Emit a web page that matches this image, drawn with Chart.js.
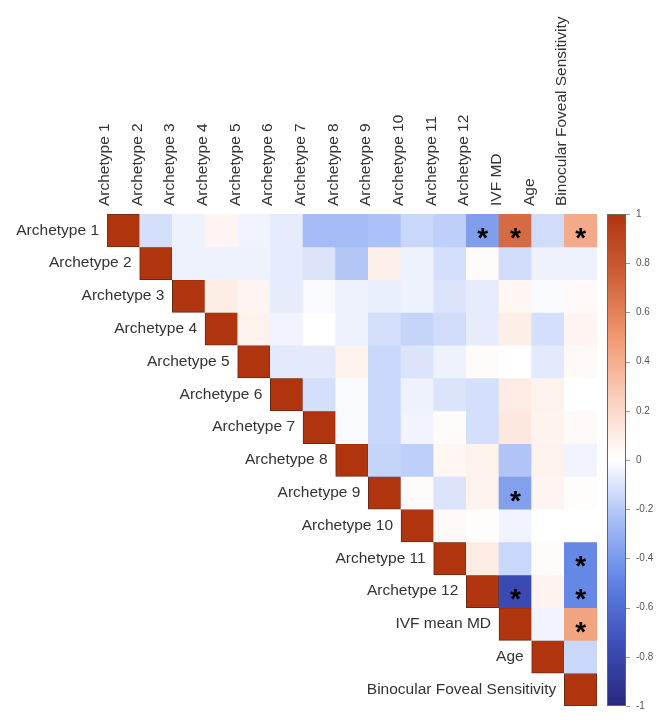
<!DOCTYPE html>
<html>
<head>
<meta charset="utf-8">
<script src="https://cdn.jsdelivr.net/npm/chart.js@4.4.1/dist/chart.umd.min.js"></script>
<style>
  body { margin: 0; background: #fff; }
  canvas { display: block; }
</style>
</head>
<body>
<canvas id="corrChart" width="666" height="722"></canvas>
<script>
// noms des colonnes (haut) et des lignes (le long de la diagonale)
const colLabels = ['Archetype 1', 'Archetype 2', 'Archetype 3', 'Archetype 4', 'Archetype 5', 'Archetype 6',
  'Archetype 7', 'Archetype 8', 'Archetype 9', 'Archetype 10', 'Archetype 11', 'Archetype 12',
  'IVF MD', 'Age', 'Binocular Foveal Sensitivity'];
const rowLabels = ['Archetype 1', 'Archetype 2', 'Archetype 3', 'Archetype 4', 'Archetype 5', 'Archetype 6',
  'Archetype 7', 'Archetype 8', 'Archetype 9', 'Archetype 10', 'Archetype 11', 'Archetype 12',
  'IVF mean MD', 'Age', 'Binocular Foveal Sensitivity'];

// triangle supérieur : chaque ligne commence juste après la diagonale
const rowA1 = [-0.12, -0.05, 0.05, -0.04, -0.07, -0.25, -0.25, -0.23, -0.15, -0.18, -0.38, 0.7, -0.13, 0.42];
const rowA2 = [-0.05, -0.05, -0.05, -0.07, -0.1, -0.21, 0.08, -0.05, -0.12, 0.02, -0.13, -0.05, -0.05];
const rowA3 = [0.1, 0.05, -0.07, -0.02, -0.05, -0.06, -0.05, -0.1, -0.07, 0.04, -0.02, 0.03];
const rowA4 = [0.07, -0.04, 0.0, -0.05, -0.12, -0.16, -0.13, -0.07, 0.09, -0.12, 0.05];
const rowA5 = [-0.08, -0.08, 0.07, -0.15, -0.1, -0.05, 0.02, 0.0, -0.08, 0.03];
const rowA6 = [-0.12, -0.02, -0.15, -0.05, -0.1, -0.12, 0.1, 0.07, 0.0];
const rowA7 = [-0.02, -0.15, -0.04, 0.02, -0.12, 0.12, 0.06, 0.03];
const rowA8 = [-0.16, -0.18, 0.04, 0.07, -0.22, 0.07, -0.04];
const rowA9 = [0.02, -0.1, 0.07, -0.37, 0.05, 0.01];
const rowA10 = [0.03, 0.01, -0.04, 0.0, 0.0];
const rowA11 = [0.1, -0.15, 0.02, -0.48];
const rowA12 = [-0.78, 0.06, -0.48];
const rowIVF = [-0.04, 0.45];
const rowAge = [-0.15];
const rowBFS = [];
const upperRows = [rowA1, rowA2, rowA3, rowA4, rowA5, rowA6, rowA7, rowA8, rowA9, rowA10, rowA11, rowA12, rowIVF, rowAge, rowBFS];

// cellules significatives [ligne, colonne], base 1
const significant = [[1, 12], [1, 13], [1, 15], [9, 13], [11, 15], [12, 13], [12, 15], [13, 15]];

// ticks de la barre de couleur
const cbTicks = [1, 0.8, 0.6, 0.4, 0.2, 0, -0.2, -0.4, -0.6, -0.8, -1];

// palette divergente bleu - blanc - rouge brique
const colorStops = [
  [-1, [40, 40, 125]],
  [-0.75, [62, 78, 185]],
  [-0.5, [95, 130, 228]],
  [-0.25, [165, 188, 246]],
  [0, [255, 255, 255]],
  [0.25, [250, 207, 188]],
  [0.5, [240, 152, 112]],
  [0.75, [206, 96, 56]],
  [1, [176, 52, 14]]
];

function colorFor(v) {
  for (let k = 1; k < colorStops.length; k++) {
    const [v0, c0] = colorStops[k - 1];
    const [v1, c1] = colorStops[k];
    if (v <= v1) {
      const t = (v - v0) / (v1 - v0);
      const c = c0.map((x, i) => Math.round(x + (c1[i] - x) * t));
      return `rgb(${c[0]},${c[1]},${c[2]})`;
    }
  }
  const c = colorStops[colorStops.length - 1][1];
  return `rgb(${c[0]},${c[1]},${c[2]})`;
}

function valueAt(r, c) {
  if (c === r) return 1;
  return upperRows[r][c - r - 1];
}

const FONT = "'Liberation Sans', Arial, sans-serif";
const LABEL_SIZE = 15.5;

// une série par ligne : barres flottantes qui occupent toute la case
const datasets = rowLabels.map((name, r) => ({
  label: name,
  data: colLabels.map((_, c) => c >= r ? [r + 0.5, r + 1.5] : null),
  backgroundColor: colLabels.map((_, c) => c >= r ? colorFor(valueAt(r, c)) : 'transparent'),
  borderColor: colLabels.map((_, c) => c === r ? '#6a2a12' : 'transparent'),
  borderWidth: colLabels.map((_, c) => c === r ? 1 : 0),
  borderSkipped: false,
  grouped: false,
  categoryPercentage: 1,
  barPercentage: 1
}));

// étiquettes de lignes, astérisques et barre de couleur
const overlayPlugin = {
  id: 'overlay',
  afterDatasetsDraw(chart) {
    const ctx = chart.ctx;
    const xs = chart.scales.x;
    const ys = chart.scales.y;
    const cw = xs.getPixelForValue(1) - xs.getPixelForValue(0);

    ctx.save();
    ctx.fillStyle = '#333';
    ctx.font = `${LABEL_SIZE}px ${FONT}`;
    ctx.textAlign = 'right';
    ctx.textBaseline = 'middle';
    rowLabels.forEach((name, r) => {
      const x = xs.getPixelForValue(r) - cw / 2 - 8;
      const y = ys.getPixelForValue(r + 1);
      ctx.fillText(name, x, y);
    });

    const size = 28;
    ctx.fillStyle = '#000';
    ctx.font = `bold ${size}px ${FONT}`;
    ctx.textAlign = 'center';
    ctx.textBaseline = 'alphabetic';
    significant.forEach(([r, c]) => {
      const x = xs.getPixelForValue(c - 1);
      const y = ys.getPixelForValue(r);
      ctx.fillText('*', x, y + size * 0.6);
    });
    ctx.restore();
  },
  afterDraw(chart) {
    const ctx = chart.ctx;
    const cb = chart.scales.cb;
    const left = chart.chartArea.right + 10;
    const w = 19;
    const top = cb.getPixelForValue(1);
    const bottom = cb.getPixelForValue(-1);
    const grad = ctx.createLinearGradient(0, top, 0, bottom);
    colorStops.forEach(([v, c]) => {
      grad.addColorStop((1 - v) / 2, `rgb(${c[0]},${c[1]},${c[2]})`);
    });
    ctx.save();
    ctx.fillStyle = grad;
    ctx.fillRect(left, top, w, bottom - top);
    ctx.strokeStyle = '#666';
    ctx.lineWidth = 1;
    ctx.strokeRect(left + 0.5, top + 0.5, w - 1, bottom - top - 1);
    ctx.strokeStyle = '#999';
    cbTicks.forEach(v => {
      const y = Math.round(cb.getPixelForValue(v)) + 0.5;
      ctx.beginPath();
      ctx.moveTo(left + w, y);
      ctx.lineTo(left + w + 4, y);
      ctx.stroke();
    });
    ctx.restore();
  }
};

new Chart(document.getElementById('corrChart'), {
  type: 'bar',
  data: { labels: colLabels, datasets },
  options: {
    responsive: false,
    animation: false,
    layout: { padding: { left: 107, right: 0, top: 0, bottom: 16 } },
    plugins: {
      legend: { display: false },
      tooltip: { enabled: false }
    },
    scales: {
      x: {
        position: 'top',
        grid: { display: false, drawTicks: false },
        border: { display: false },
        ticks: {
          autoSkip: false,
          minRotation: 90,
          maxRotation: 90,
          padding: 8,
          color: '#333',
          font: { family: FONT, size: LABEL_SIZE }
        },
        afterFit(scale) { scale.height = 214; }
      },
      y: {
        display: false,
        reverse: true,
        min: 0.5,
        max: 15.5
      },
      cb: {
        type: 'linear',
        axis: 'y',
        position: 'right',
        min: -1,
        max: 1,
        grid: { display: false, drawTicks: false },
        border: { display: false },
        ticks: {
          stepSize: 0.2,
          padding: 39,
          color: '#555',
          font: { family: FONT, size: 10 },
          callback: v => String(Math.round(v * 10) / 10)
        },
        afterFit(scale) {
          scale.width = 69;
          // la marge des étiquettes ne doit pas rogner la zone du graphique
          scale.paddingTop = 6;
          scale.paddingBottom = 6;
        }
      }
    }
  },
  plugins: [overlayPlugin]
});
</script>
</body>
</html>
